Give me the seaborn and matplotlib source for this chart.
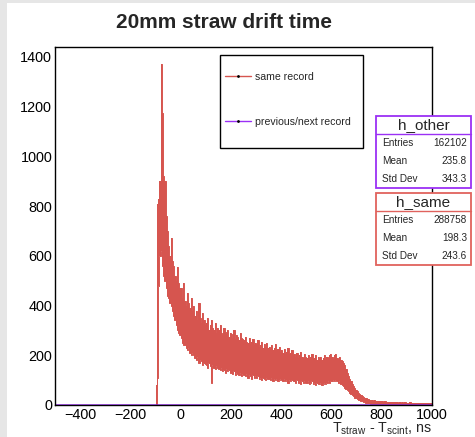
import numpy as np
import matplotlib
matplotlib.use("Agg")
import matplotlib.pyplot as plt
from matplotlib.patches import Rectangle
from matplotlib.lines import Line2D
from matplotlib.ticker import MultipleLocator
import seaborn as sns

W, H = 475, 437

# "same record" histogram: 5 ns bins starting at -100 ns.
# upper / lower edge of the (very noisy, 1 ns) band
same_start = -100
same_width = 5
same_hi = [
    80, 810, 830, 900, 1372, 1175, 920, 900, 760, 700,
    640, 600, 672, 580, 560, 520, 500, 555, 490, 470,
    470, 430, 490, 420, 400, 450, 410, 390, 430, 380,
    400, 360, 380, 340, 410, 350, 330, 370, 340, 320,
    330, 350, 300, 320, 340, 310, 300, 330, 290, 310,
    300, 320, 290, 280, 310, 295, 285, 300, 275, 290,
    285, 270, 300, 265, 280, 275, 260, 290, 270, 265,
    260, 275, 255, 250, 270, 245, 255, 265, 240, 250,
    245, 260, 235, 240, 255, 230, 245, 235, 250, 230,
    235, 225, 240, 220, 230, 245, 220, 225, 235, 215,
    220, 210, 225, 205, 215, 230, 205, 210, 220, 200,
    205, 195, 210, 190, 200, 215, 195, 190, 205, 195,
    190, 200, 185, 195, 205, 185, 190, 200, 180, 195,
    185, 195, 180, 190, 200, 185, 195, 190, 200, 205,
    195, 185, 200, 205, 190, 185, 195, 180, 175, 170,
    160, 145, 130, 118, 105, 95, 85, 75, 68, 60,
    55, 50, 45, 40, 36, 32, 30, 28, 25, 24,
    22, 20, 22, 18, 20, 17, 18, 16, 18, 15,
    16, 14, 15, 13, 14, 12, 13, 12, 14, 11,
    12, 11, 13, 10, 12, 10, 11, 9, 11, 10,
    10, 9, 11, 10, 9, 10, 8, 10, 9, 8,
    9, 8, 10, 8, 9, 7, 9, 8, 7, 8,
]
same_lo = [
    0, 110, 480, 600, 620, 560, 520, 500, 470, 440,
    430, 410, 400, 380, 360, 340, 320, 300, 290, 280,
    270, 250, 240, 240, 230, 220, 230, 210, 200, 210,
    200, 190, 180, 195, 170, 180, 175, 160, 170, 165,
    160, 150, 170, 155, 90, 160, 150, 145, 155, 150,
    145, 140, 150, 135, 140, 130, 145, 135, 140, 130,
    130, 125, 135, 120, 130, 125, 120, 130, 115, 125,
    120, 115, 125, 110, 120, 115, 105, 120, 110, 115,
    110, 115, 105, 110, 100, 110, 105, 100, 110, 105,
    105, 100, 110, 95, 105, 100, 105, 95, 100, 105,
    100, 95, 105, 95, 100, 90, 100, 95, 100, 95,
    95, 90, 100, 90, 95, 85, 95, 90, 95, 90,
    90, 95, 85, 90, 95, 85, 90, 80, 90, 85,
    85, 90, 80, 85, 90, 85, 90, 95, 90, 95,
    95, 100, 95, 100, 95, 90, 95, 85, 80, 75,
    70, 65, 60, 55, 50, 45, 40, 35, 30, 28,
    25, 22, 20, 17, 15, 13, 12, 10, 9, 8,
    7, 6, 6, 5, 5, 4, 4, 4, 3, 3,
    3, 2, 3, 2, 2, 2, 2, 1, 2, 1,
    1, 1, 2, 1, 1, 1, 1, 1, 1, 1,
    1, 0, 1, 1, 0, 1, 0, 1, 0, 1,
    0, 1, 0, 0, 1, 0, 0, 1, 0, 0,
]

# "previous/next record" histogram: 50 ns bins from -500 ns, almost empty
other_start = -500
other_width = 50
other_counts = [2] * 30

legend_labels = ["same record", "previous/next record"]
stat_names = ["Entries", "Mean", "Std Dev"]
other_stats = [162102, 235.8, 343.3]
same_stats = [288758, 198.3, 243.6]

RED = "#d6554f"
RED_BOX = "#e0625d"
PURPLE = "#9b30f5"


def fx(x):
    return x / W


def fy(y):
    return 1 - y / H


sns.set_style("white")
plt.rcParams["font.family"] = ["Liberation Sans", "DejaVu Sans"]
plt.rcParams["mathtext.default"] = "regular"

fig = plt.figure(figsize=(W / 100, H / 100), dpi=100)
fig.patches.append(Rectangle((0, 0), fx(7), 1, transform=fig.transFigure,
                             color="#e6e6e6", lw=0, zorder=0))
fig.patches.append(Rectangle((0, fy(3)), 1, 3 / H, transform=fig.transFigure,
                             color="#e6e6e6", lw=0, zorder=0))

ax = fig.add_axes([fx(55), fy(405), (432 - 55) / W, (405 - 47) / H])

# red band
edges = same_start + same_width * np.arange(len(same_hi) + 1)
hi = np.append(same_hi, same_hi[-1])
lo = np.append(same_lo, same_lo[-1])
ax.fill_between(edges, lo, hi, step="post", color=RED, lw=0)
sns.lineplot(x=edges, y=hi, drawstyle="steps-post", color=RED, lw=0.7, ax=ax)
sns.lineplot(x=edges, y=lo, drawstyle="steps-post", color=RED, lw=0.7, ax=ax)

# purple line
oedges = other_start + other_width * np.arange(len(other_counts) + 1)
ocounts = np.append(other_counts, other_counts[-1])
sns.lineplot(x=oedges, y=ocounts, drawstyle="steps-post", color=PURPLE,
             lw=1.8, ax=ax)

ax.set_xlim(-500, 1000)
ax.set_ylim(0, 1440)
ax.xaxis.set_major_locator(MultipleLocator(200))
ax.xaxis.set_minor_locator(MultipleLocator(50))
ax.yaxis.set_major_locator(MultipleLocator(200))
ax.yaxis.set_minor_locator(MultipleLocator(50))
ax.tick_params(which="both", direction="in", top=False, right=False,
               width=0.8, colors="black", labelsize=10.4, pad=2)
ax.tick_params(which="major", length=8.5)
ax.tick_params(which="minor", length=4.3)
for s in ax.spines.values():
    s.set_color("black")
    s.set_linewidth(1.0)
ax.set_xlabel("")
ax.set_ylabel("")

fig.text(fx(224), fy(22), "20mm straw drift time", ha="center", va="center",
         fontsize=15, fontweight="bold")
fig.text(fx(432), fy(433), r"T$_{straw}$ - T$_{scint}$, ns", ha="right",
         va="baseline", fontsize=10.3)

# legend
fig.patches.append(Rectangle((fx(220), fy(148)), (363 - 220) / W, (148 - 55) / H,
                             transform=fig.transFigure, facecolor="white",
                             edgecolor="black", lw=1, zorder=1))
handles = [Line2D([], [], color=RED, lw=1, marker=".", markersize=2,
                  markerfacecolor="black", markeredgecolor="black"),
           Line2D([], [], color=PURPLE, lw=1, marker=".", markersize=2,
                  markerfacecolor="black", markeredgecolor="black")]
fig.legend(handles, legend_labels, loc="upper left",
           bbox_to_anchor=(fx(220), fy(67)), bbox_transform=fig.transFigure,
           frameon=False, fontsize=7.6, labelspacing=3.3, borderpad=0.47,
           borderaxespad=0, handlelength=2.45, handletextpad=0.4)


def stats_box(top, title, values, color):
    left, right = 376, 471
    fig.patches.append(Rectangle((fx(left), fy(top + 72)), (right - left) / W,
                                 72 / H, transform=fig.transFigure,
                                 facecolor="white", edgecolor=color, lw=1.3,
                                 zorder=1))
    fig.lines.append(Line2D([fx(left), fx(right)], [fy(top + 18)] * 2,
                            transform=fig.transFigure, color=color, lw=1))
    fig.text(fx((left + right) / 2), fy(top + 9.5), title, ha="center",
             va="center", fontsize=11)
    for i, (n, v) in enumerate(zip(stat_names, values)):
        y = top + 27 + i * 18
        fig.text(fx(left + 6), fy(y), n, ha="left", va="center", fontsize=7.2)
        fig.text(fx(right - 4), fy(y), f"{v:g}", ha="right", va="center",
                 fontsize=7.2)


stats_box(116, "h_other", other_stats, PURPLE)
stats_box(193, "h_same", same_stats, RED_BOX)

fig.savefig("out.png", dpi=100)
